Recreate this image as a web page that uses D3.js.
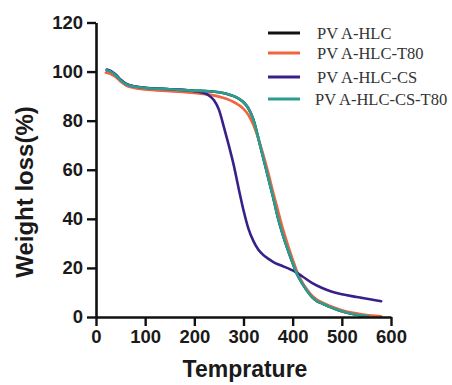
<!DOCTYPE html>
<html>
<head>
<meta charset="utf-8">
<script src="https://cdn.jsdelivr.net/npm/d3@7/dist/d3.min.js"></script>
<style>
  html, body { margin: 0; padding: 0; background: #fff; }
  svg { display: block; }
</style>
</head>
<body>
<svg id="chart" width="452" height="385"></svg>
<script>
// Thermogravimetric curves: residual weight (%) vs temperature (°C)
const xTicks = [0, 100, 200, 300, 400, 500, 600];
const yTicks = [0, 20, 40, 60, 80, 100, 120];

const seriesNames = ["PVA-HLC", "PVA-HLC-T80", "PVA-HLC-CS", "PVA-HLC-CS-T80"];
const legendLabels = ["PV A-HLC", "PV A-HLC-T80", "PV A-HLC-CS", "PV A-HLC-CS-T80"];
const seriesColors = ["#111111", "#f26440", "#38208a", "#2a9d8f"];

const tempPvaHlc = [22, 30, 40, 50, 60, 70, 80, 100, 150, 200, 230, 250, 265, 280, 290, 300, 310, 320, 330, 340, 350, 360, 370, 380, 390, 400, 410, 420, 430, 440, 450, 460, 470, 480, 500, 520, 540, 555];
const wtPvaHlc   = [100.5, 100, 98.5, 96.5, 95, 94.2, 93.8, 93.3, 92.8, 92.2, 92, 91.6, 91, 90, 89, 87.5, 85, 80.5, 73, 65, 57, 49, 40.5, 33.5, 27.5, 22, 17, 13.5, 10.5, 8, 6.4, 5.5, 4.6, 3.8, 2.3, 1.3, 0.6, 0.3];

const tempT80 = [20, 30, 40, 50, 60, 70, 80, 100, 150, 200, 230, 250, 265, 280, 290, 300, 310, 320, 330, 340, 350, 360, 370, 380, 390, 400, 410, 420, 430, 440, 450, 460, 470, 480, 500, 520, 540, 560, 580];
const wtT80   = [99.5, 99, 97.8, 96, 94.5, 93.7, 93.2, 92.7, 92, 91.3, 90.6, 89.8, 88.9, 87.6, 86.4, 84.8, 82.3, 78.3, 72.8, 66.3, 59, 51, 43.5, 36, 29.5, 23.5, 18, 14, 11, 8.6, 7, 5.9, 5, 4.2, 2.8, 1.8, 1.1, 0.6, 0.3];

const tempCS = [22, 30, 40, 50, 60, 70, 80, 100, 150, 200, 220, 230, 240, 250, 260, 270, 280, 290, 300, 310, 320, 330, 340, 350, 360, 370, 380, 390, 400, 420, 440, 460, 480, 500, 520, 540, 560, 580];
const wtCS   = [100.8, 100.3, 98.8, 96.8, 95.2, 94.3, 93.9, 93.4, 92.8, 92, 91.2, 90.2, 88.3, 84.5, 77.5, 70, 62, 52.5, 43.5, 36, 31, 27.5, 25.3, 23.8, 22.5, 21.5, 20.7, 19.9, 19, 16.5, 13.8, 11.8, 10.3, 9.3, 8.5, 7.8, 7.1, 6.4];

const tempCST80 = [22, 30, 40, 50, 60, 70, 80, 100, 150, 200, 230, 250, 265, 280, 290, 300, 310, 320, 330, 340, 350, 360, 370, 380, 390, 400, 410, 420, 430, 440, 450, 460, 470, 480, 500, 520, 540, 555];
const wtCST80   = [100.5, 100, 98.5, 96.5, 95, 94.2, 93.8, 93.3, 92.8, 92.2, 92, 91.6, 91, 90, 89, 87.5, 85, 80.5, 73, 65, 57, 49, 40.5, 33.5, 27.5, 22, 17, 13.5, 10.5, 8, 6.4, 5.5, 4.6, 3.8, 2.3, 1.3, 0.6, 0.3];

const series = [
  { name: seriesNames[0], temps: tempPvaHlc, weights: wtPvaHlc },
  { name: seriesNames[1], temps: tempT80, weights: wtT80 },
  { name: seriesNames[2], temps: tempCS, weights: wtCS },
  { name: seriesNames[3], temps: tempCST80, weights: wtCST80 }
];

const svg = d3.select("#chart");
const plot = { left: 96, right: 391, top: 22.5, bottom: 317 };

const x = d3.scaleLinear().domain([0, 600]).range([plot.left, plot.right]);
const y = d3.scaleLinear().domain([0, 120]).range([plot.bottom, plot.top]);

const sansBold = "'Liberation Sans', Arial, Helvetica, sans-serif";

// curves
const line = d3.line()
  .x(d => x(d[0]))
  .y(d => y(d[1]))
  .curve(d3.curveMonotoneX);

const drawOrder = [0, 1, 2, 3];
svg.append("g")
  .selectAll("path")
  .data(drawOrder.map(i => series[i]))
  .join("path")
  .attr("fill", "none")
  .attr("stroke", (d, i) => seriesColors[drawOrder[i]])
  .attr("stroke-width", 2.6)
  .attr("stroke-linejoin", "round")
  .attr("stroke-linecap", "round")
  .attr("d", d => line(d.temps.map((t, k) => [t, d.weights[k]])));

// axes
const xAxis = d3.axisBottom(x).tickValues(xTicks).tickSize(9).tickSizeOuter(0).tickPadding(4);
const yAxis = d3.axisLeft(y).tickValues(yTicks).tickSize(9).tickSizeOuter(0).tickPadding(4);

const gx = svg.append("g").attr("transform", `translate(0,${plot.bottom})`).call(xAxis);
const gy = svg.append("g").attr("transform", `translate(${plot.left},0)`).call(yAxis);

[gx, gy].forEach(g => {
  g.select(".domain").attr("stroke", "#111").attr("stroke-width", 2.6);
  g.selectAll(".tick line").attr("stroke", "#111").attr("stroke-width", 2.4);
  g.selectAll(".tick text")
    .attr("fill", "#1a1a1a")
    .style("font-family", sansBold)
    .style("font-weight", "bold")
    .style("font-size", "18.5px");
});

// axis titles
svg.append("text")
  .attr("x", 245)
  .attr("y", 377)
  .attr("text-anchor", "middle")
  .attr("fill", "#1a1a1a")
  .style("font-family", sansBold)
  .style("font-weight", "bold")
  .style("font-size", "23px")
  .text("Temprature");

svg.append("text")
  .attr("transform", "translate(33,192) rotate(-90)")
  .attr("text-anchor", "middle")
  .attr("fill", "#1a1a1a")
  .style("font-family", sansBold)
  .style("font-weight", "bold")
  .style("font-size", "24px")
  .text("Weight loss(%)");

// legend
const legendRows = [33, 53, 77, 99];
const legend = svg.append("g");
legendLabels.forEach((label, i) => {
  legend.append("line")
    .attr("x1", 268).attr("x2", 300)
    .attr("y1", legendRows[i]).attr("y2", legendRows[i])
    .attr("stroke", seriesColors[i])
    .attr("stroke-width", 3);
  legend.append("text")
    .attr("x", i === 3 ? 315 : 317)
    .attr("y", legendRows[i])
    .attr("dy", "0.35em")
    .attr("fill", "#333")
    .style("font-family", "'Liberation Serif', 'Times New Roman', serif")
    .style("font-size", "16.5px")
    .text(label);
});
</script>
</body>
</html>
